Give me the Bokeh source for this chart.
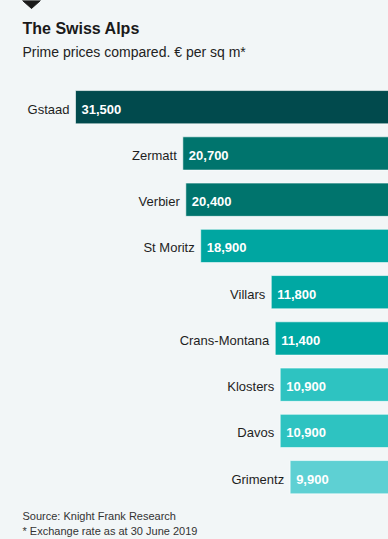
from bokeh.plotting import figure
from bokeh.models import Range1d, ColumnDataSource, GlobalInlineStyleSheet
from bokeh.core.properties import value
from bokeh.embed import file_html
from bokeh.resources import INLINE

# ---- data ----
cities = ["Gstaad", "Zermatt", "Verbier", "St Moritz", "Villars",
          "Crans-Montana", "Klosters", "Davos", "Grimentz"]
prices = [31500, 20700, 20400, 18900, 11800, 11400, 10900, 10900, 9900]
bar_colors = ["#014a4d", "#00746d", "#00746d", "#00a6a1", "#00a8a3",
              "#00a8a3", "#2ec3c1", "#2ec3c1", "#5ed0d3"]
value_labels = [f"{v:,}" for v in prices]

title = "The Swiss Alps"
subtitle = "Prime prices compared. € per sq m*"
source_note = "Source: Knight Frank Research"
fx_note = "* Exchange rate as at 30 June 2019"

# ---- layout ----
W, H = 388, 539
BG = "#f2f6f7"
FONT = value("Liberation Sans")

src = ColumnDataSource(dict(
    y=list(range(len(cities))),
    city=cities,
    price=prices,
    color=bar_colors,
    label=value_labels,
))

p = figure(width=W, height=H, output_backend="svg", toolbar_location=None,
           x_range=Range1d(39050, 0), y_range=Range1d(9.347, -2.307),
           x_axis_location=None, y_axis_location=None,
           min_border=0, background_fill_color=BG, border_fill_color=BG,
           outline_line_color=None)
p.grid.visible = False
p.extra_x_ranges = {"px": Range1d(0, W)}
p.extra_y_ranges = {"px": Range1d(H, 0)}
p.stylesheets = [GlobalInlineStyleSheet(css=f"body{{margin:0;background:{BG};}}")]

# bars
p.hbar(y="y", left=0, right="price", height=0.72, fill_color="color",
       line_color="#ffffff", line_alpha=0.6, line_width=1, source=src)

# city labels
p.text(x="price", y="y", text="city", x_offset=-6, y_offset=2,
       text_align="right", text_baseline="middle", text_font=FONT,
       text_font_size="13px", text_color="#1e1e1e", source=src)

# value labels
p.text(x="price", y="y", text="label", x_offset=6, y_offset=2,
       text_align="left", text_baseline="middle", text_font=FONT,
       text_font_style="bold", text_font_size="13px", text_color="#ffffff",
       source=src)

# decoration diamond
p.patch(x=[22, 40, 31], y=[0, 0, 8], x_range_name="px", y_range_name="px",
        fill_color="#1a1a1a", line_color="#1a1a1a")

# titles and notes
p.text(x=[22], y=[27.5], text=[title], x_range_name="px", y_range_name="px",
       text_font=FONT, text_font_style="bold", text_font_size="16px",
       text_color="#1a1a1a", text_baseline="alphabetic")
p.text(x=[22], y=[51], text=[subtitle], x_range_name="px", y_range_name="px",
       text_font=FONT, text_font_size="14px", text_color="#222222",
       text_baseline="alphabetic")
p.text(x=[22, 22], y=[515, 530], text=[source_note, fx_note],
       x_range_name="px", y_range_name="px",
       text_font=FONT, text_font_size="11px", text_color="#333333",
       text_baseline="alphabetic")

open("out.html", "w").write(file_html(p, INLINE))
